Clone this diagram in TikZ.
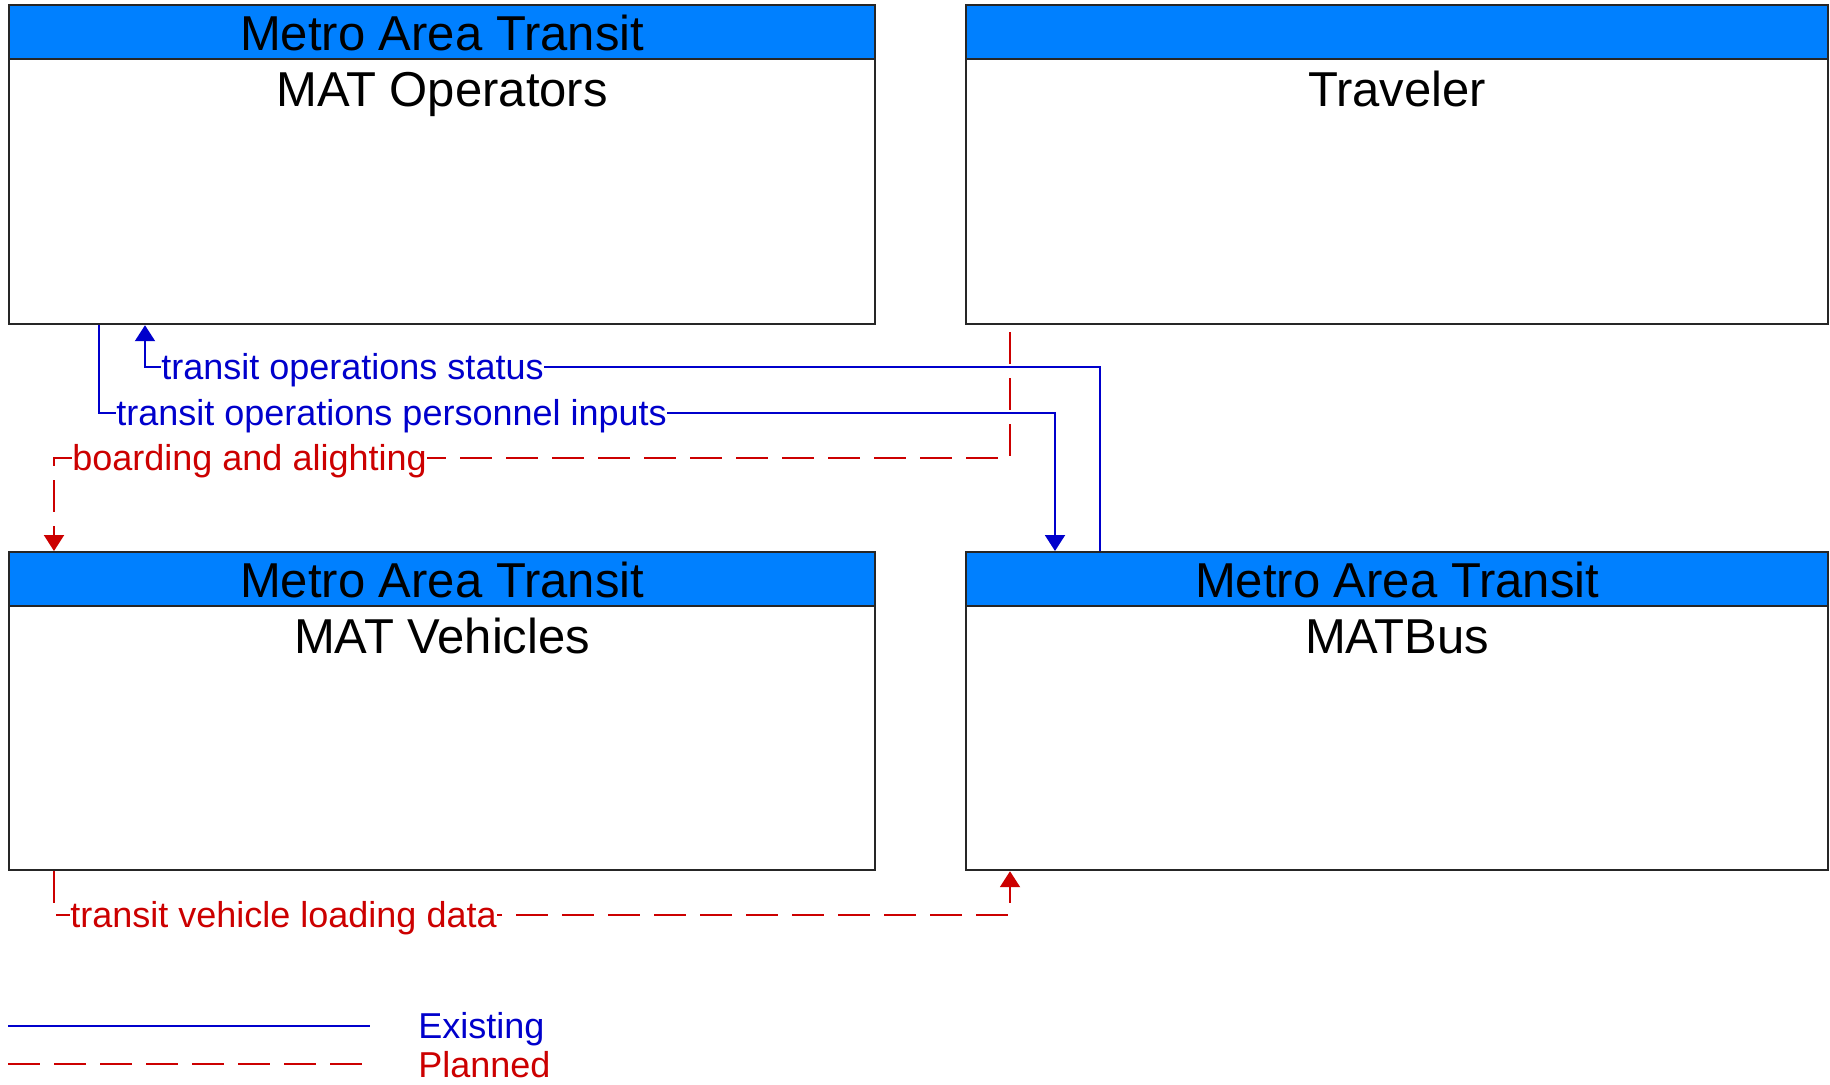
\documentclass[tikz,border=0pt]{standalone}
\usepackage{fontspec}
\setmainfont{Liberation Sans}
\usetikzlibrary{arrows.meta,calc}
\definecolor{hdr}{RGB}{0,128,255}
\definecolor{exblue}{RGB}{0,0,204}
\definecolor{plred}{RGB}{204,0,0}
\begin{document}
\begin{tikzpicture}[x=0.5pt,y=-0.5pt,
  box/.style={draw=black!85, line width=1.1pt, fill=white, anchor=north west, inner sep=0pt},
  hdrbox/.style={draw=black!85, line width=1.1pt, fill=hdr, anchor=north west, inner sep=0pt},
  title/.style={font=\fontsize{24.5}{28}\selectfont, anchor=base, inner sep=0pt},
  lbl/.style={font=\fontsize{18}{21}\selectfont, anchor=base west, inner sep=0pt, fill=white},
  legtext/.style={font=\fontsize{18}{21}\selectfont, anchor=base west, inner sep=0pt},
  ex/.style={draw=exblue, line width=1pt},
  pl/.style={draw=plred, line width=1pt, dash pattern=on 16pt off 7pt},
  tip/.style={-{Triangle[length=8pt,width=10pt]}}
]
\fill[white] (0,0) rectangle (1830,1084);
\useasboundingbox (0,0) rectangle (1830,1084);

% boxes
\node[box, minimum width=433pt, minimum height=159.75pt] (ops) at (8,3.5) {};
\node[hdrbox, minimum width=433pt, minimum height=27.25pt] (opsh) at (ops.north west) {};
\node[title] (opst) at ($(ops.north)+(0,46.5)$) {Metro Area Transit};
\node[title] (opsn) at ($(ops.north)+(0,102.5)$) {MAT Operators};

\node[box, minimum width=431pt, minimum height=159.75pt] (trav) at (965,3.5) {};
\node[hdrbox, minimum width=431pt, minimum height=27.25pt] (travh) at (trav.north west) {};
\node[title] (travn) at ($(trav.north)+(0,102.5)$) {Traveler};

\node[box, minimum width=433pt, minimum height=159pt] (veh) at (8,551) {};
\node[hdrbox, minimum width=433pt, minimum height=27pt] (vehh) at (veh.north west) {};
\node[title] (veht) at ($(veh.north)+(0,46.5)$) {Metro Area Transit};
\node[title] (vehn) at ($(veh.north)+(0,102.5)$) {MAT Vehicles};

\node[box, minimum width=431pt, minimum height=159pt] (bus) at (965,551) {};
\node[hdrbox, minimum width=431pt, minimum height=27pt] (bush) at (bus.north west) {};
\node[title] (bust) at ($(bus.north)+(0,46.5)$) {Metro Area Transit};
\node[title] (busn) at ($(bus.north)+(0,102.5)$) {MATBus};

% levels
\coordinate (yS) at (0,367);
\coordinate (yP) at (0,413);
\coordinate (yB) at (0,458);
\coordinate (yL) at (0,915);

% transit operations status
\coordinate (sA) at ($(bus.north west)+(135,0)$);
\coordinate (sB) at ($(ops.south west)+(137,0)$);
\draw[ex, tip] (sA) |- (sB |- yS) -- (sB);

% transit operations personnel inputs
\coordinate (pA) at ($(ops.south west)+(91,0)$);
\coordinate (pB) at ($(bus.north west)+(90,0)$);
\draw[ex, tip] (pA) |- (pB |- yP) -- (pB);

% boarding and alighting
\coordinate (bA) at ($(trav.south west)+(45,7)$);
\coordinate (bB) at ($(veh.north west)+(46,0)$);
\draw[pl, tip] (bA) |- (bB |- yB) -- (bB);

% transit vehicle loading data
\coordinate (lA) at ($(veh.south west)+(46,0)$);
\coordinate (lB) at ($(bus.south west)+(45,0)$);
\draw[pl, tip] (lA) |- (lB |- yL) -- (lB);

% labels
\node[lbl, text=exblue] (lS) at ($(sB |- yS)+(16,12)$) {transit operations status};
\node[lbl, text=exblue] (lP) at ($(pA |- yP)+(17,12)$) {transit operations personnel inputs};
\node[lbl, text=plred] (lB1) at ($(bB |- yB)+(18,12)$) {boarding and alighting};
\node[lbl, text=plred] (lL) at ($(lA |- yL)+(16,12)$) {transit vehicle loading data};

% legend
\coordinate (e1) at (8,1026);
\coordinate (e2) at (370,1026);
\draw[ex] (e1) -- (e2);
\coordinate (q1) at (8,1064);
\coordinate (q2) at (362,1064);
\draw[pl] (q1) -- (q2);
\node[legtext, text=exblue] (leg1) at (418,1038) {Existing};
\node[legtext, text=plred] (leg2) at (418,1077) {Planned};
\end{tikzpicture}
\end{document}
